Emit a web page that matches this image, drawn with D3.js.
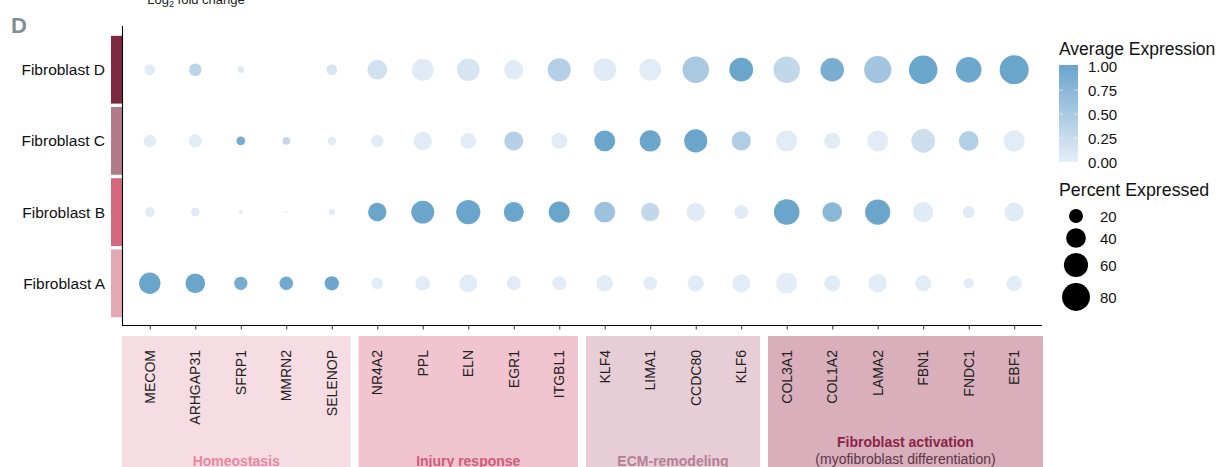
<!DOCTYPE html>
<html><head><meta charset="utf-8">
<script src="https://cdn.jsdelivr.net/npm/d3@7"></script>
<style>
body{margin:0;background:#fff;}
text{font-family:"Liberation Sans",Arial,Helvetica,sans-serif;}
</style></head>
<body><svg id="chart" width="1228" height="467"></svg>
<script>
const genes = ["MECOM","ARHGAP31","SFRP1","MMRN2","SELENOP","NR4A2","PPL","ELN","EGR1","ITGBL1","KLF4","LIMA1","CCDC80","KLF6","COL3A1","COL1A2","LAMA2","FBN1","FNDC1","EBF1"];
const rows = ["Fibroblast D","Fibroblast C","Fibroblast B","Fibroblast A"];
const rowColors = ["#7e2944","#b27b8c","#d5677f","#e4a7b4"];
const groupNames = ["Homeostasis","Injury response","ECM-remodeling","Fibroblast activation"];
const groupSub = ["","","","(myofibroblast differentiation)"];
const groupSizes = [5,5,4,6];
const groupFill = ["#f6dce3","#f1c5cf","#e7cdd5","#d8afbb"];
const groupText = ["#e5899f","#cf5a78","#b77f95","#8a2448"];

const pctD = [12,16,4,0,12,40,49,52,38,55,54,49,72,58,72,57,76,83,67,87];
const pctC = [16,18,8,6,7.5,16,35,25,37,26,45,46,55,38,46,27,45,58,40,46];
const pctB = [10,8,1.3,0.4,4.5,35,54,60,41,46,45,35,35,20,67,40,65,42,15,37];
const pctA = [47,40,18,19,21,14,22,33,20,20,28,19,27,33,46,27,35,26,11,24];

const expD = [0.03,0.35,0.08,0,0.12,0.18,0.04,0.12,0.04,0.4,0.04,0.03,0.5,1,0.3,0.88,0.55,1,0.97,1];
const expC = [0.03,0.03,0.9,0.3,0.04,0.03,0.03,0.03,0.4,0.03,1,1,1,0.45,0.03,0.03,0.03,0.2,0.42,0.03];
const expB = [0.04,0.04,0.1,0.1,0.04,1,1,1,1,1,0.6,0.3,0.04,0.04,1,0.75,1,0.04,0.04,0.04];
const expA = [1,1,0.9,0.95,1,0.03,0.03,0.03,0.03,0.03,0.03,0.03,0.03,0.03,0.02,0.03,0.03,0.03,0.03,0.03];

const legendExpTicks = [0,0.25,0.5,0.75,1];
const legendPct = [20,40,60,80];

const pctRows = [pctD,pctC,pctB,pctA];
const expRows = [expD,expC,expB,expA];

const svg = d3.select("#chart");
const x = d3.scalePoint().domain(genes).range([122.5,1041.5]).padding(0.6);
const y = d3.scalePoint().domain(rows).range([27,326]).padding(0.6);
const r = d3.scaleSqrt().domain([0,100]).range([0,15.6]);
const col = d3.scaleLinear().domain([0,1]).range(["#e5eef8","#6aa5cc"]).interpolate(d3.interpolateLab);

// Panel label
svg.append("text").attr("x",11).attr("y",33).attr("font-size",22).attr("font-weight","bold").attr("fill","#7f8f92").text("D");
// Top label (cut)
const topLabel = svg.append("text").attr("x",196).attr("y",3.5).attr("text-anchor","middle").attr("font-size",13).attr("fill","#222");
topLabel.append("tspan").text("Log");
topLabel.append("tspan").attr("font-size",9).attr("dy",3).text("2");
topLabel.append("tspan").attr("dy",-3).text(" fold change");

// Category boxes
let start = 0;
const step = x.step();
groupNames.forEach((g,i)=>{
  const first = genes[start], last = genes[start+groupSizes[i]-1];
  const x0 = i===0 ? 122 : x(first) - step/2 + 4;
  const x1 = i===groupNames.length-1 ? 1043 : x(last) + step/2 - 4;
  svg.append("rect").attr("x",x0).attr("y",336).attr("width",x1-x0).attr("height",140).attr("fill",groupFill[i]);
  const cx = (x0+x1)/2;
  if(groupSub[i]){
    svg.append("text").attr("x",cx).attr("y",447).attr("text-anchor","middle").attr("font-size",14).attr("font-weight","bold").attr("fill",groupText[i]).text(g);
    svg.append("text").attr("x",cx).attr("y",464).attr("text-anchor","middle").attr("font-size",14).attr("fill","#5e3547").text(groupSub[i]);
  } else {
    svg.append("text").attr("x",cx).attr("y",466).attr("text-anchor","middle").attr("font-size",14).attr("font-weight","bold").attr("fill",groupText[i]).text(g);
  }
  start += groupSizes[i];
});

// Row color bars
rows.forEach((rw,i)=>{
  svg.append("rect").attr("x",111).attr("y",y(rw)-y.step()/2+1.7).attr("width",11).attr("height",y.step()-3.4).attr("fill",rowColors[i]);
});

// Axes
const xAxis = d3.axisBottom(x).tickSize(4).tickFormat("");
const gx = svg.append("g").attr("transform","translate(0,325.5)").call(xAxis);
gx.select(".domain").attr("d","M122.5,0H1042").attr("stroke","#000").attr("stroke-width",1.1);
gx.selectAll(".tick line").attr("stroke","#333");
const gy = svg.append("g").attr("transform","translate(122.5,0)").call(d3.axisLeft(y).tickSize(0).tickFormat(""));
gy.select(".domain").attr("d","M0,26V326").attr("stroke","#000").attr("stroke-width",1.1);

// Gene labels
genes.forEach(g=>{
  svg.append("text").attr("transform",`translate(${x(g)+5},350) rotate(-90)`).attr("text-anchor","end").attr("font-size",14).attr("fill","#222").text(g);
});
// Row labels
rows.forEach(rw=>{
  svg.append("text").attr("x",105).attr("y",y(rw)+5.5).attr("text-anchor","end").attr("font-size",15.5).attr("fill","#111").text(rw);
});

// Dots
const data = [];
rows.forEach((rw,i)=>genes.forEach((g,j)=>data.push({rw,g,p:pctRows[i][j],e:expRows[i][j]})));
svg.append("g").selectAll("circle").data(data.filter(d=>d.p>0)).join("circle")
  .attr("cx",d=>x(d.g)).attr("cy",d=>y(d.rw)).attr("r",d=>r(d.p)).attr("fill",d=>col(d.e));

// Legend: colorbar
svg.append("text").attr("x",1059).attr("y",55).attr("font-size",17.5).attr("fill","#111").text("Average Expression");
const defs = svg.append("defs");
const grad = defs.append("linearGradient").attr("id","cb").attr("x1",0).attr("x2",0).attr("y1",1).attr("y2",0);
d3.range(0,1.01,0.1).forEach(t=>grad.append("stop").attr("offset",t).attr("stop-color",col(t)));
const cyS = d3.scaleLinear().domain([0,1]).range([162,66]);
svg.append("rect").attr("x",1059).attr("y",65).attr("width",19).attr("height",97).attr("fill","url(#cb)");
legendExpTicks.forEach(t=>{
  if(t>0 && t<1){
    svg.append("line").attr("x1",1059).attr("x2",1063).attr("y1",cyS(t)).attr("y2",cyS(t)).attr("stroke","#fff").attr("stroke-opacity",0.6);
    svg.append("line").attr("x1",1074).attr("x2",1078).attr("y1",cyS(t)).attr("y2",cyS(t)).attr("stroke","#fff").attr("stroke-opacity",0.6);
  }
  svg.append("text").attr("x",1088).attr("y",cyS(t)+5.5).attr("font-size",15).attr("fill","#111").text(t.toFixed(2));
});
// Legend: size
svg.append("text").attr("x",1059).attr("y",196).attr("font-size",17.8).attr("fill","#111").text("Percent Expressed");
const sy = [216,238,265,297];
legendPct.forEach((p,i)=>{
  svg.append("circle").attr("cx",1076).attr("cy",sy[i]).attr("r",r(p)).attr("fill","#000");
  svg.append("text").attr("x",1100).attr("y",sy[i]+5.5).attr("font-size",15).attr("fill","#111").text(p);
});
</script></body></html>
